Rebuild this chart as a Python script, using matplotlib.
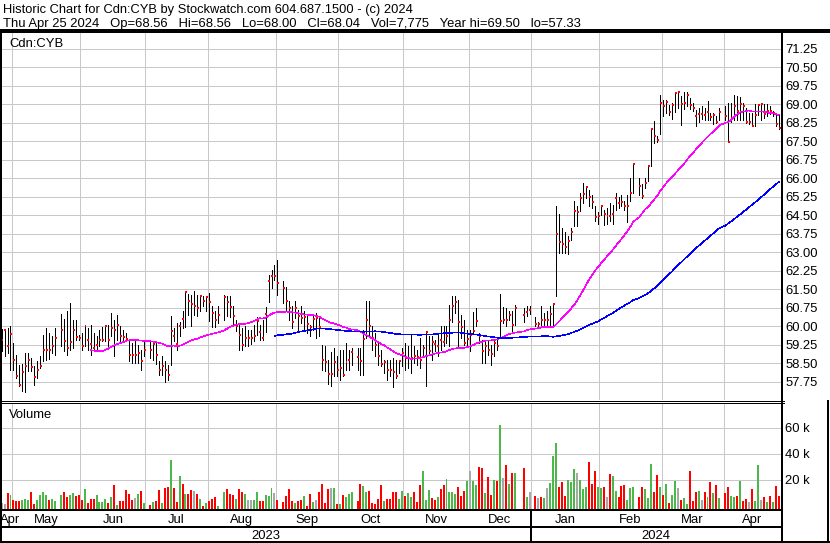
import numpy as np
import pandas as pd
import matplotlib
matplotlib.use("Agg")
import matplotlib.pyplot as plt
from matplotlib.lines import Line2D
from matplotlib.transforms import blended_transform_factory

plt.rcParams['font.family'] = ['Liberation Sans', 'DejaVu Sans']

# ---------------- data ----------------
first_day, last_day = '2023-04-25', '2024-04-25'
# weekdays that have no bar on the chart
no_bar = ['2023-05-22', '2023-07-03', '2023-08-07', '2023-09-04', '2023-10-09',
          '2023-12-25', '2023-12-26', '2024-01-01', '2024-02-19', '2024-03-29']

close = [
    # Apr 25 - May 19
    59.42, 59.85, 59.18, 59.69, 58.61, 57.96, 57.62, 58.12, 58.39, 58.61, 58.32, 57.92, 58.23, 58.39, 59.01, 59.04, 59.01, 59.20, 59.50,
    # May 23 - Jun 30
    59.85, 59.38, 59.09, 59.34, 59.85, 59.54, 59.50, 59.20, 59.99, 59.45, 59.28, 59.11, 59.24, 59.42, 59.45, 59.99, 59.45, 59.93, 59.85, 60.05, 59.61, 59.55, 59.49, 58.84, 58.81, 58.81, 58.90, 58.57, 59.01,
    # Jul 4 - Aug 4
    59.01, 59.26, 58.84, 58.23, 58.39, 58.23, 58.00, 59.78, 59.61, 59.27, 59.99, 60.30, 61.36, 61.00, 60.89, 60.82, 60.73, 61.20, 61.00, 61.18, 60.99, 60.51, 60.26, 60.46,
    # Aug 8 - Sep 1
    61.16, 60.96, 60.76, 60.39, 59.99, 59.65, 59.24, 59.50, 59.50, 59.50, 59.58, 60.19, 59.74, 59.50, 60.50, 61.81, 62.01, 62.01, 61.73,
    # Sep 5 - Oct 6
    61.53, 61.00, 60.73, 60.15, 60.74, 60.42, 60.31, 60.35, 60.09, 59.96, 60.30, 60.31, 59.95, 58.61, 58.55, 58.07, 58.04, 58.53, 58.20, 58.30, 58.03, 58.53, 58.63, 58.93,
    # Oct 10 - Oct 31
    58.73, 58.57, 59.49, 60.26, 59.99, 59.51, 59.24, 58.77, 58.47, 58.54, 58.20, 58.23, 58.12, 57.96, 58.57, 58.90,
    # Nov
    58.70, 58.70, 58.70, 58.80, 58.74, 58.63, 59.11, 59.74, 58.97, 59.34, 59.28, 59.20, 59.45, 59.34, 59.61, 60.26, 60.80, 60.96, 60.15, 59.94, 59.31, 59.47,
    # Dec
    59.65, 59.81, 60.21, 59.61, 58.97, 59.17, 59.01, 58.88, 59.31, 59.20, 60.21, 60.26, 60.26, 60.44, 60.03, 60.75, 60.44, 60.57, 60.63,
    # Jan
    60.09, 60.09, 60.26, 60.26, 60.26, 60.49, 60.89, 63.74, 63.40, 63.34, 63.19, 63.46, 63.80, 64.65, 64.61, 65.19, 65.36, 65.62, 65.25, 65.01, 64.42, 64.47,
    # Feb 1 - Feb 16
    64.85, 64.55, 64.47, 64.47, 64.54, 65.19, 64.98, 65.01, 64.88, 64.88, 65.41, 66.58,
    # Feb 20 - Feb 29
    65.69, 65.28, 65.79, 66.50, 68.00, 67.69, 67.53, 69.06,
    # Mar
    68.90, 69.10, 68.66, 68.97, 69.44, 69.47, 69.01, 69.06, 69.36, 68.97, 68.83, 68.50, 68.58, 68.58, 68.54, 68.66, 68.46, 68.55, 68.27, 68.66,
    # Apr
    68.52, 67.48, 68.43, 68.90, 68.70, 68.99, 68.90, 68.29, 68.29, 68.09, 68.54, 68.97, 69.00, 68.59, 68.70, 68.72, 68.62, 68.21, 68.04,
]

high = [
    59.88, 59.88, 59.92, 60.01, 59.31, 58.84, 58.43, 58.47, 58.91, 58.91, 58.70, 58.36, 58.57, 58.77, 59.65, 59.92, 59.72, 59.60, 59.92,
    60.50, 60.28, 60.59, 60.93, 60.26, 60.26, 59.65, 59.72, 60.01, 59.92, 60.05, 59.72, 59.58, 59.85, 59.96, 60.05, 60.05, 60.53, 60.26, 60.46, 60.01, 59.85, 59.72, 59.38, 59.31, 59.41, 59.24, 59.04, 59.45,
    59.45, 59.31, 59.38, 58.57, 58.77, 58.57, 58.43, 60.42, 59.92, 60.12, 60.15, 60.60, 61.41, 61.31, 61.27, 61.41, 61.27, 61.23, 61.20, 61.23, 61.34, 60.82, 60.59, 60.80,
    61.27, 61.23, 61.23, 60.80, 60.26, 60.05, 59.92, 59.99, 59.82, 59.85, 60.05, 60.36, 60.05, 60.26, 60.76, 62.08, 62.28, 62.49, 62.69,
    61.84, 61.57, 61.00, 60.80, 61.00, 60.64, 60.80, 60.59, 60.46, 60.05, 60.39, 60.53, 60.39, 59.24, 59.20, 58.64, 58.93, 59.10, 58.77, 59.04, 59.04, 59.31, 59.04, 59.11,
    59.11, 59.11, 59.85, 61.03, 61.03, 59.99, 59.72, 59.31, 59.04, 58.63, 58.63, 58.63, 58.70, 58.63, 58.63, 59.11,
    59.31, 59.17, 59.65, 59.17, 59.04, 59.51, 59.24, 59.76, 59.58, 59.58, 59.45, 59.65, 59.99, 59.99, 59.99, 60.86, 61.23, 61.23, 61.07, 60.46, 60.26, 59.85,
    59.85, 60.55, 60.73, 59.72, 59.45, 59.38, 59.38, 59.24, 59.45, 59.51, 61.31, 60.77, 60.73, 60.59, 60.59, 60.85, 60.73, 60.80, 60.80,
    60.36, 60.18, 60.82, 60.53, 60.59, 60.82, 60.93, 64.85, 64.55, 63.97, 63.83, 63.63, 63.97, 65.05, 64.85, 65.39, 65.79, 65.69, 65.52, 65.32, 64.85, 64.62,
    64.92, 64.71, 64.78, 64.98, 64.92, 65.39, 65.25, 65.32, 65.05, 65.32, 66.02, 66.60,
    66.00, 65.77, 66.00, 66.54, 68.03, 68.30, 67.72, 69.37,
    69.17, 69.17, 68.97, 69.04, 69.50, 69.50, 69.33, 69.50, 69.50, 69.24, 69.06, 68.77, 68.83, 68.90, 68.83, 69.14, 68.63, 68.63, 68.50, 68.83,
    68.90, 69.03, 69.03, 69.37, 69.33, 69.30, 69.03, 68.83, 68.63, 68.63, 69.01, 69.01, 69.03, 69.01, 69.01, 68.93, 68.70, 68.63, 68.56,
]

low = [
    58.97, 58.77, 58.91, 58.23, 58.20, 57.89, 57.55, 57.35, 57.33, 58.16, 58.16, 57.59, 57.89, 58.30, 58.57, 58.64, 58.68, 58.90, 58.84,
    59.18, 58.97, 58.84, 59.04, 59.11, 59.45, 59.45, 59.04, 59.18, 59.04, 58.84, 58.97, 59.04, 59.18, 59.38, 59.38, 59.18, 59.58, 58.77, 59.45, 59.38, 59.45, 59.45, 58.57, 58.50, 58.50, 58.50, 58.23, 58.77,
    58.70, 58.64, 58.47, 58.03, 58.03, 57.73, 57.82, 58.41, 59.38, 59.04, 59.58, 59.90, 59.96, 60.46, 60.01, 60.46, 60.39, 60.59, 60.80, 60.59, 60.19, 59.96, 59.96, 60.12,
    60.26, 60.39, 60.36, 60.05, 59.78, 59.01, 59.04, 59.20, 59.20, 59.28, 59.38, 59.65, 59.45, 59.45, 59.74, 60.97, 61.54, 61.88, 61.27,
    60.93, 60.59, 60.26, 59.92, 60.32, 59.78, 60.12, 59.85, 59.72, 59.58, 59.85, 59.51, 59.58, 58.23, 58.16, 57.66, 57.58, 57.96, 57.96, 57.82, 57.96, 58.23, 58.23, 58.43,
    58.23, 58.03, 58.03, 59.51, 59.58, 59.04, 58.77, 58.43, 58.36, 58.09, 57.82, 57.96, 57.53, 57.89, 58.09, 58.36,
    58.23, 58.30, 58.09, 58.50, 58.43, 58.30, 58.77, 57.56, 58.90, 58.63, 58.97, 58.77, 59.04, 59.17, 59.31, 59.17, 60.15, 60.53, 59.17, 59.51, 59.24, 59.24,
    58.97, 59.72, 59.99, 59.31, 58.50, 58.50, 58.84, 58.43, 58.77, 59.04, 59.51, 60.12, 59.99, 60.26, 59.72, 60.03, 60.15, 60.40, 60.50,
    60.01, 60.01, 60.01, 60.01, 60.05, 60.05, 60.01, 61.23, 62.98, 62.98, 62.96, 62.92, 63.50, 64.04, 64.04, 64.65, 64.98, 65.19, 64.85, 64.78, 64.24, 64.14,
    64.51, 64.10, 64.13, 64.24, 64.14, 64.71, 64.78, 64.85, 64.71, 64.20, 65.05, 65.39,
    65.32, 65.18, 65.59, 65.86, 66.47, 67.42, 67.44, 67.79,
    68.50, 68.63, 68.56, 68.39, 68.68, 68.82, 68.14, 68.79, 68.93, 68.79, 68.70, 68.09, 68.29, 68.39, 68.36, 68.36, 68.36, 68.20, 68.23, 68.36,
    68.36, 67.48, 68.29, 68.36, 68.36, 68.36, 68.36, 68.23, 68.20, 68.09, 68.11, 68.54, 68.36, 68.43, 68.50, 68.60, 68.50, 68.09, 68.00,
]

# volume in thousands of shares
volume_k = [
    2.3, 1.8, 10.0, 8.7, 4.9, 3.6, 3.6, 4.9, 5.6, 4.9, 11.0, 1.8, 4.9, 8.5, 10.8, 8.2, 4.9, 5.6, 4.0,
    8.5, 11.0, 7.2, 8.5, 10.3, 7.9, 8.5, 4.9, 13.3, 2.3, 5.6, 5.6, 8.5, 3.3, 3.3, 5.6, 2.3, 7.2, 16.4, 0.8, 4.1, 4.1, 12.6, 9.5, 4.9, 6.4, 9.2, 11.8, 2.3,
    0.8, 3.3, 4.1, 12.6, 2.6, 14.1, 14.6, 35.6, 14.1, 3.3, 23.3, 17.2, 9.5, 9.5, 12.6, 11.8, 9.2, 5.6, 0.3, 2.6, 4.1, 5.6, 7.2, 0.3,
    11.0, 13.1, 9.5, 8.5, 5.6, 13.1, 11.0, 9.5, 4.9, 4.9, 4.9, 11.0, 4.1, 4.1, 8.5, 7.9, 14.1, 10.3, 4.9,
    3.3, 7.9, 13.1, 4.1, 2.6, 4.1, 4.9, 7.9, 0.3, 9.5, 3.3, 4.9, 11.0, 17.2, 2.6, 13.3, 14.1, 14.1, 1.8, 1.8, 8.7, 7.2, 9.5, 11.0,
    4.1, 17.2, 15.6, 11.0, 11.8, 2.6, 1.8, 5.6, 16.4, 4.1, 5.6, 5.6, 11.0, 11.0, 5.6, 11.8,
    7.9, 10.3, 7.2, 11.0, 3.3, 16.4, 27.2, 4.9, 12.6, 6.4, 4.9, 7.2, 13.3, 16.4, 21.0, 11.0, 11.0, 9.5, 14.9, 7.9, 11.8, 19.5,
    27.2, 19.5, 16.4, 30.3, 29.5, 10.3, 22.6, 8.7, 20.3, 19.5, 62.6, 21.8, 31.8, 17.2, 25.6, 25.6, 29.5, 7.2, 11.0,
    7.9, 6.4, 7.2, 6.4, 14.1, 17.9, 38.7, 48.7, 14.9, 18.7, 7.9, 20.3, 18.7, 28.7, 25.6, 20.3, 13.3, 14.9, 34.1, 17.2, 27.2, 14.9,
    14.1, 14.9, 7.2, 24.9, 23.3, 11.8, 7.2, 15.6, 16.4, 4.9, 14.1, 14.9,
    7.2, 14.9, 13.3, 6.4, 32.6, 11.0, 24.1, 14.9,
    8.7, 17.2, 2.6, 8.7, 19.5, 14.1, 4.9, 6.4, 1.8, 27.2, 4.1, 11.0, 11.8, 4.9, 11.0, 7.2, 18.7, 10.3, 16.2, 6.4,
    10.3, 14.9, 7.9, 7.2, 7.9, 19.5, 4.1, 5.6, 3.3, 13.3, 4.1, 31.8, 4.9, 7.2, 3.3, 7.9, 3.3, 15.6, 7.8,
]

# colour of each volume bar: u = up, d = down, n = unchanged
vol_dir = ("nndudddu" "uudduuuu" "duu"
           "uddu" "uddd" "uddd" "uuuu" "dudu" "dddd" "dnud" "u"
           "dudd" "uddu" "ddud" "uddn" "dudu" "dddu"
           "uddd" "uddu" "nnuu" "dduu" "und"
           "dddd" "uddu" "ddun" "dddd" "nudu" "d" "uuu"
           "dduu" "dddd" "dudd" "dduu"
           "duud" "dduu" "uddu" "dduu" "uudd" "du"
           "nu" "uddu" "ddud" "undu" "du" "dun"
           "dndu" "nuuu" "dddu" "uunu" "uudd" "du"
           "udnd" "uudd" "duuu"
           "dduu" "uddu"
           "dudu" "undu" "uddd" "undu" "dudu"
           "dduu" "dudd" "nduu" "ndud" "udd")

month_names = ['Apr', 'May', 'Jun', 'Jul', 'Aug', 'Sep', 'Oct', 'Nov', 'Dec',
               'Jan', 'Feb', 'Mar', 'Apr']
year_names = ['2023', '2024']
price_ticks = np.arange(57.75, 71.3, 0.75)
vol_ticks = [20000, 40000, 60000]
vol_labels = ['20 k', '40 k', '60 k']

header1 = "Historic Chart for Cdn:CYB by Stockwatch.com 604.687.1500 - (c) 2024"
header2 = "   ".join(["Thu Apr 25 2024", "Op=68.56", "Hi=68.56", "Lo=68.00",
                      "Cl=68.04", "Vol=7,775", "Year hi=69.50", "lo=57.33"])

# ---------------- layout ----------------
W, H = 830, 543
PX = 0.72            # one pixel in points at 100 dpi
FS = 9.4
GRID = '#c8c8c8'
vol_colors = {'u': '#4cb84c', 'd': '#ff0000', 'n': '#a8a8a8'}

slots = pd.bdate_range(first_day, last_day)
has_bar = ~slots.isin(pd.to_datetime(no_bar))
x = np.arange(len(slots))[has_bar]
assert len(x) == len(close) == len(high) == len(low) == len(volume_k) == len(vol_dir)

close = np.array(close)
high = np.array(high)
low = np.array(low)
volume = np.array(volume_k) * 1000

ma30 = pd.Series(close).rolling(30).mean()
ma90 = pd.Series(close).rolling(90).mean()

mon = slots.month
bounds = [i - 0.5 for i in range(1, len(slots)) if mon[i] != mon[i - 1]]
xlim = (-0.54, 262.78)
vlim = (-2300, 79200)


def box(x0, y0, x1, y1):
    return [x0 / W, 1 - y1 / H, (x1 - x0) / W, (y1 - y0) / H]


fig = plt.figure(figsize=(W / 100, H / 100), dpi=100)
fig.patch.set_facecolor('white')

ax_p = fig.add_axes(box(0, 32, 781, 400))
ax_v = fig.add_axes(box(0, 403, 781, 509))

for ax in (ax_p, ax_v):
    ax.set_xlim(*xlim)
    for s in ax.spines.values():
        s.set_visible(False)
    ax.set_xticks(bounds)
    ax.tick_params(axis='x', length=0, labelbottom=False)
    ax.yaxis.tick_right()
    ax.tick_params(axis='y', length=0, pad=3.2, labelsize=FS, labelcolor='black')
    ax.grid(True, color=GRID, lw=PX, antialiased=False)
    ax.set_axisbelow(True)

# price panel
ax_p.set_ylim(57.0, 71.92)
ax_p.set_yticks(price_ticks)
ax_p.set_yticklabels([f'{v:.2f}' for v in price_ticks])
ax_p.vlines(x, low, high, colors='black', lw=PX, antialiased=False, zorder=2)
ax_p.hlines(close, x - 0.05, x + 0.62, colors='#ff0000', lw=2 * PX,
            antialiased=False, zorder=3)
ax_p.plot(x, ma30, color='#ff00ff', lw=0.4, antialiased=False, zorder=4)
ax_p.plot(x, ma90, color='#0000ff', lw=0.4, antialiased=False, zorder=4)
ax_p.text(9 / 781, 1 - (46.7 - 32) / 368, 'Cdn:CYB', transform=ax_p.transAxes,
          fontsize=FS, va='baseline', ha='left')

# volume panel
ax_v.set_ylim(*vlim)
ax_v.set_yticks(vol_ticks)
ax_v.set_yticklabels(vol_labels)
ax_v.bar(x, volume - vlim[0], bottom=vlim[0], width=0.67,
         color=[vol_colors[c] for c in vol_dir], linewidth=0, antialiased=False,
         zorder=2)
ax_v.text(9 / 781, 1 - (418.3 - 403) / 106, 'Volume', transform=ax_v.transAxes,
          fontsize=FS, va='baseline', ha='left')

# month / year rows
edges = [xlim[0]] + bounds + [xlim[1]]
tr = blended_transform_factory(ax_v.transData, fig.transFigure)
for k, (name, a, b) in enumerate(zip(month_names, edges[:-1], edges[1:])):
    if k == 0:
        # first month is only a sliver; keep its label inside the picture
        ax_v.text(a, 1 - 522.7 / H, name, transform=tr, ha='left',
                  va='baseline', fontsize=FS, clip_on=False)
    else:
        ax_v.text((a + b) / 2, 1 - 522.7 / H, name, transform=tr, ha='center',
                  va='baseline', fontsize=FS, clip_on=False)
jan = bounds[month_names.index('Jan') - 1]
for name, a, b in zip(year_names, [xlim[0], jan], [jan, xlim[1]]):
    ax_v.text((a + b) / 2, 1 - 539.3 / H, name, transform=tr, ha='center',
              va='baseline', fontsize=FS, clip_on=False)
fig.add_artist(Line2D([jan, jan], [1 - 510 / H, 1 - 541 / H], transform=tr,
                      color='black', lw=1.5 * PX, antialiased=False))

# header, sized so each line spans the same width as on the original
t1 = fig.text(3 / W, 1 - 13.3 / H, header1, fontsize=FS, va='baseline', ha='left')
t2 = fig.text(3 / W, 1 - 27.3 / H, header2, fontsize=FS, va='baseline', ha='left')
renderer = fig.canvas.get_renderer()
for t, width in ((t1, 408), (t2, 575)):
    w = t.get_window_extent(renderer).width
    t.set_fontsize(FS * width / w)


def hline(y, x0, x1, w):
    fig.add_artist(Line2D([x0 / W, x1 / W], [1 - y / H, 1 - y / H], color='black',
                          lw=w * PX, antialiased=False, solid_capstyle='butt'))


def vline(xp, y0, y1, w):
    fig.add_artist(Line2D([xp / W, xp / W], [1 - y0 / H, 1 - y1 / H], color='black',
                          lw=w * PX, antialiased=False, solid_capstyle='butt'))


hline(30.8, 0, W, 2.5)
hline(400.5, 0, 784, 1)
hline(402.8, 0, 784, 1)
hline(510, 0, 782, 2)
hline(527, 0, 782, 2)
hline(542, 0, W, 2)
vline(0.8, 30, H, 1.6)
vline(781.8, 30, H, 1.6)
vline(828.3, 400, H, 1.6)

fig.savefig('out.png', dpi=100, facecolor='white')
